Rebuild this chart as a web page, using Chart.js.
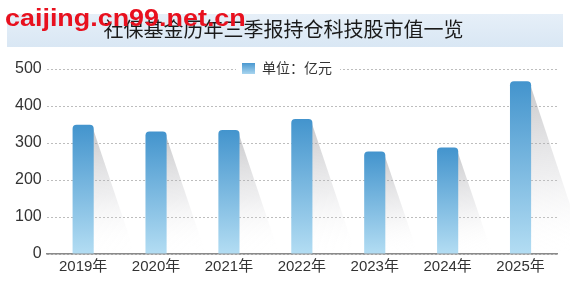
<!DOCTYPE html>
<html>
<head>
<meta charset="utf-8">
<script src="https://cdn.jsdelivr.net/npm/chart.js@4/dist/chart.umd.min.js"></script>
<style>
  html, body { margin: 0; padding: 0; background: #fff; }
  #wrap { position: relative; width: 570px; height: 289px; }
  #grafico { position: absolute; left: 0; top: 0; }
  #marca {
    position: absolute; left: 5px; top: 5px;
    font: bold 23px 'Liberation Sans', Arial, sans-serif;
    color: #e8101e;
    transform: scaleX(1.17); transform-origin: left top;
    white-space: nowrap;
  }
</style>
</head>
<body>
<div id="wrap">
  <canvas id="grafico" width="570" height="289"></canvas>
  <div id="marca">caijing.cn99.net.cn</div>
</div>
<script>
const titulo = '社保基金历年三季报持仓科技股市值一览';
const unidad = '单位：亿元';
const anios = ['2019年', '2020年', '2021年', '2022年', '2023年', '2024年', '2025年'];
const valores = [349, 331, 335, 365, 277, 288, 467];
const ticksY = [0, 100, 200, 300, 400, 500];

const fuente = "'Liberation Sans', 'Noto Sans CJK SC', sans-serif";

// banda del titulo + sombras + leyenda
const decoracion = {
  id: 'decoracion',
  beforeDraw(chart) {
    const ctx = chart.ctx;
    ctx.save();
    const g = ctx.createLinearGradient(0, 14, 0, 47);
    g.addColorStop(0, '#e6eff8');
    g.addColorStop(1, '#d9e7f4');
    ctx.fillStyle = g;
    ctx.fillRect(7, 14, 556, 33);
    ctx.restore();
  },
  beforeDatasetsDraw(chart) {
    const ctx = chart.ctx;
    const area = chart.chartArea;
    ctx.save();
    ctx.beginPath();
    ctx.rect(area.left, area.top - 20, area.right - area.left + 20, area.bottom - area.top + 20);
    ctx.clip();
    chart.getDatasetMeta(0).data.forEach((bar) => {
      const r = bar.x + bar.width / 2;
      const top = bar.y;
      const base = bar.base;
      const h = base - top;
      const g = ctx.createLinearGradient(r, top, r + 0.12 * h, base);
      g.addColorStop(0, 'rgba(130,130,135,0.45)');
      g.addColorStop(0.55, 'rgba(190,190,195,0.25)');
      g.addColorStop(1, 'rgba(255,255,255,0)');
      ctx.fillStyle = g;
      ctx.beginPath();
      ctx.moveTo(r - 1, top + 3);
      ctx.lineTo(r + 0.32 * h, base);
      ctx.lineTo(r - 1, base);
      ctx.closePath();
      ctx.fill();
    });
    ctx.restore();
  },
  afterDraw(chart) {
    const ctx = chart.ctx;
    ctx.save();
    ctx.fillStyle = '#fff';
    ctx.fillRect(236, 60, 104, 18);
    const g = ctx.createLinearGradient(0, 63, 0, 74);
    g.addColorStop(0, '#4a98d0');
    g.addColorStop(1, '#a8d5ef');
    ctx.fillStyle = g;
    ctx.fillRect(242, 63, 13, 11);
    ctx.fillStyle = '#333';
    ctx.font = '14px ' + fuente;
    ctx.textBaseline = 'middle';
    ctx.fillText(unidad, 262, 69);
    ctx.restore();
  }
};

function colorBarra(context) {
  const chart = context.chart;
  if (!chart.chartArea || context.raw === undefined) return '#6aaedc';
  const y = chart.scales.y;
  const top = y.getPixelForValue(context.raw);
  const base = y.getPixelForValue(0);
  const g = chart.ctx.createLinearGradient(0, top, 0, base);
  g.addColorStop(0, '#4394cd');
  g.addColorStop(1, '#b3ddf3');
  return g;
}

const data = {
  labels: anios,
  datasets: [{
    label: unidad,
    data: valores,
    backgroundColor: colorBarra,
    borderRadius: { topLeft: 4, topRight: 4 },
    borderSkipped: 'bottom',
    barPercentage: 0.29,
    categoryPercentage: 1
  }]
};

const config = {
  type: 'bar',
  data: data,
  options: {
    responsive: false,
    animation: false,
    layout: { padding: { left: 10, right: 13, bottom: 9 } },
    plugins: {
      legend: { display: false },
      tooltip: { enabled: false },
      title: {
        display: true,
        text: titulo,
        color: '#1a1a1a',
        font: { family: fuente, size: 20, weight: 'normal' },
        padding: { top: 19, bottom: 26 }
      }
    },
    scales: {
      x: {
        grid: { display: false, drawTicks: false },
        border: { display: true, color: '#8a8a8a', width: 1.5 },
        ticks: { color: '#333', font: { family: fuente, size: 15 }, padding: 4 }
      },
      y: {
        min: 0,
        max: 500,
        afterBuildTicks: (scale) => { scale.ticks = ticksY.map((v) => ({ value: v })); },
        grid: { color: '#bdbdbd', lineWidth: 1, drawTicks: false },
        border: { display: false, dash: [2, 2] },
        ticks: { color: '#333', font: { family: fuente, size: 16 }, padding: 5 }
      }
    }
  },
  plugins: [decoracion]
};

const myChart = new Chart(document.getElementById('grafico'), config);
</script>
</body>
</html>
